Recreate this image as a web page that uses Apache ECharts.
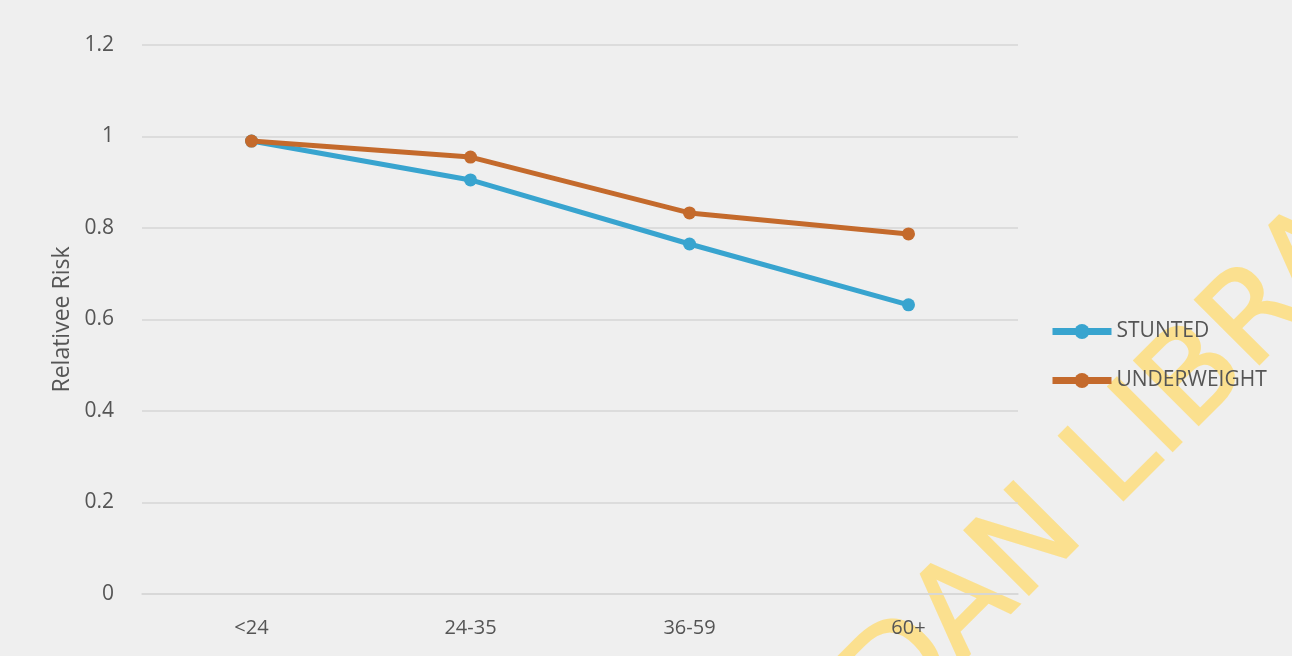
<!DOCTYPE html>
<html>
<head>
<meta charset="utf-8">
<script src="https://cdn.jsdelivr.net/npm/echarts@6/dist/echarts.min.js"></script>
<style>
  html, body { margin: 0; padding: 0; background: #efefef; }
  #chart { width: 1292px; height: 656px; }
</style>
</head>
<body>
<div id="chart"></div>
<script>
// Age groups (months) on the x axis
const ageGroups = ['<24', '24-35', '36-59', '60+'];
// Relative risk by age group
const stunted = [0.99, 0.905, 0.765, 0.632];
const underweight = [0.99, 0.955, 0.833, 0.787];
// Y axis range
const yMin = 0;
const yMax = 1.2;
const yStep = 0.2;

const textColor = '#555555';
const fontFamily = '"Open Sans", "Noto Sans", sans-serif';
const blue = '#38a4cf';
const rust = '#c46a2c';

const chart = echarts.init(document.getElementById('chart'), null, { renderer: 'canvas' });

// Diagonal library stamp across the lower right, kept behind the chart
const watermark = {
  color: '#fbe08f',
  font: 'normal 125px "DejaVu Sans", sans-serif',
  x: 1136,
  y: 530,
  angle: Math.PI / 4
};

function stampPart(text, offset, align) {
  return {
    type: 'text',
    x: watermark.x,
    y: watermark.y,
    rotation: watermark.angle,
    z: -1,
    silent: true,
    style: {
      text: text,
      x: offset,
      textAlign: align,
      textVerticalAlign: 'bottom',
      fill: watermark.color,
      stroke: watermark.color,
      lineWidth: 2,
      font: watermark.font
    }
  };
}

chart.setOption({
  backgroundColor: '#efefef',
  animation: false,
  textStyle: { fontFamily: fontFamily },
  grid: { left: 142, right: 274, top: 45, bottom: 62 },
  xAxis: {
    type: 'category',
    data: ageGroups,
    boundaryGap: true,
    axisLine: { show: true, lineStyle: { color: '#d6d6d6', width: 1.5 } },
    axisTick: { show: false },
    axisLabel: { color: textColor, fontSize: 20, margin: 24, fontFamily: fontFamily }
  },
  yAxis: {
    type: 'value',
    min: yMin,
    max: yMax,
    interval: yStep,
    name: 'Relativee Risk',
    nameLocation: 'middle',
    nameGap: 68,
    nameTextStyle: { color: textColor, fontSize: 23, fontFamily: fontFamily },
    axisLine: { show: false },
    axisTick: { show: false },
    axisLabel: {
      color: textColor, fontSize: 21, margin: 28, fontFamily: fontFamily,
      formatter: v => String(Math.round(v * 10) / 10)
    },
    splitLine: { lineStyle: { color: '#d6d6d6', width: 1.5 } }
  },
  legend: {
    orient: 'vertical',
    left: 1044,
    top: 316,
    itemWidth: 59,
    itemHeight: 19,
    itemGap: 28,
    lineStyle: { width: 7 },
    textStyle: { color: textColor, fontSize: 21, fontFamily: fontFamily },
    data: ['STUNTED', 'UNDERWEIGHT']
  },
  series: [
    {
      name: 'STUNTED',
      type: 'line',
      data: stunted,
      symbol: 'circle',
      symbolSize: 13,
      lineStyle: { color: blue, width: 5 },
      itemStyle: { color: blue },
      z: 2
    },
    {
      name: 'UNDERWEIGHT',
      type: 'line',
      data: underweight,
      symbol: 'circle',
      symbolSize: 13,
      lineStyle: { color: rust, width: 5 },
      itemStyle: { color: rust },
      z: 3
    }
  ],
  graphic: [
    stampPart('UNIVERSITY OF IBADAN', -40, 'right'),
    stampPart('LIBRARY', 0, 'left')
  ]
});
</script>
</body>
</html>
